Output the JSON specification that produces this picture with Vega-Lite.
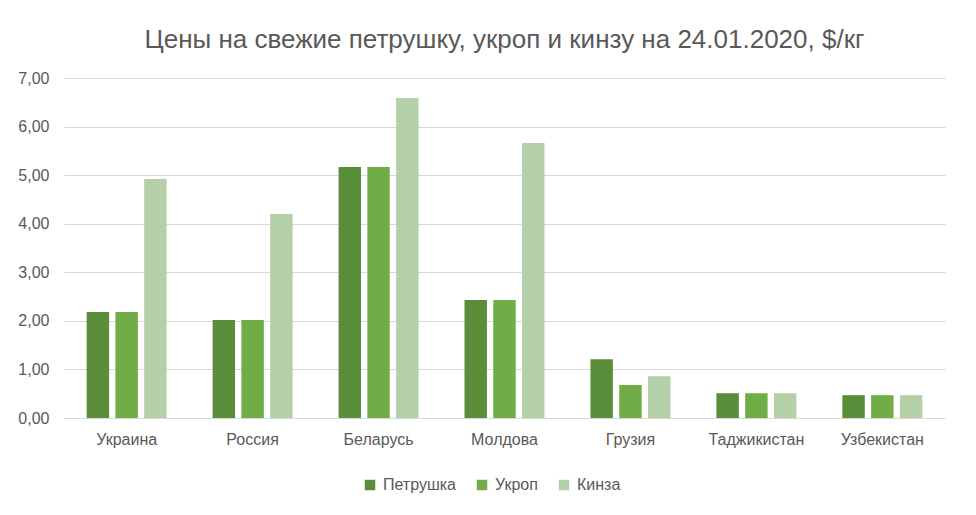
{
  "$schema": "https://vega.github.io/schema/vega-lite/v6.json",
  "autosize": {"type": "none"},
  "width": 881,
  "height": 340,
  "padding": {"left": 64, "top": 78, "right": 31, "bottom": 97},
  "background": "white",
  "title": {
    "text": "Цены на свежие петрушку, укроп и кинзу на 24.01.2020, $/кг",
    "font": "Liberation Sans",
    "fontSize": 26,
    "fontWeight": "normal",
    "color": "#595959",
    "anchor": "middle",
    "frame": "group",
    "offset": 17
  },
  "data": {
    "values": [
      {"country": "Украина", "herb": "Петрушка", "price": 2.18},
      {"country": "Украина", "herb": "Укроп", "price": 2.18},
      {"country": "Украина", "herb": "Кинза", "price": 4.92},
      {"country": "Россия", "herb": "Петрушка", "price": 2.02},
      {"country": "Россия", "herb": "Укроп", "price": 2.02},
      {"country": "Россия", "herb": "Кинза", "price": 4.2},
      {"country": "Беларусь", "herb": "Петрушка", "price": 5.17},
      {"country": "Беларусь", "herb": "Укроп", "price": 5.17},
      {"country": "Беларусь", "herb": "Кинза", "price": 6.59},
      {"country": "Молдова", "herb": "Петрушка", "price": 2.43},
      {"country": "Молдова", "herb": "Укроп", "price": 2.43},
      {"country": "Молдова", "herb": "Кинза", "price": 5.66},
      {"country": "Грузия", "herb": "Петрушка", "price": 1.21},
      {"country": "Грузия", "herb": "Укроп", "price": 0.68},
      {"country": "Грузия", "herb": "Кинза", "price": 0.86},
      {"country": "Таджикистан", "herb": "Петрушка", "price": 0.51},
      {"country": "Таджикистан", "herb": "Укроп", "price": 0.51},
      {"country": "Таджикистан", "herb": "Кинза", "price": 0.51},
      {"country": "Узбекистан", "herb": "Петрушка", "price": 0.47},
      {"country": "Узбекистан", "herb": "Укроп", "price": 0.47},
      {"country": "Узбекистан", "herb": "Кинза", "price": 0.47}
    ]
  },
  "mark": {"type": "bar"},
  "encoding": {
    "x": {
      "field": "country",
      "type": "nominal",
      "sort": null,
      "scale": {"paddingInner": 0.365, "paddingOuter": 0.18},
      "axis": {
        "title": null,
        "labelAngle": 0,
        "ticks": false,
        "domain": true,
        "domainColor": "#d9d9d9",
        "labelPadding": 13,
        "labelFontSize": 16,
        "labelColor": "#595959",
        "labelFont": "Liberation Sans",
        "grid": false
      }
    },
    "xOffset": {
      "field": "herb",
      "type": "nominal",
      "sort": ["Петрушка", "Укроп", "Кинза"],
      "scale": {"paddingInner": 0.22, "paddingOuter": 0}
    },
    "y": {
      "field": "price",
      "type": "quantitative",
      "scale": {"domain": [0, 7], "nice": false},
      "axis": {
        "title": null,
        "format": ".2f",
        "values": [0, 1, 2, 3, 4, 5, 6, 7],
        "labelOverlap": false,
        "ticks": false,
        "domain": false,
        "labelPadding": 15,
        "labelFontSize": 16,
        "labelColor": "#595959",
        "labelFont": "Liberation Sans",
        "gridColor": "#d9d9d9",
        "gridWidth": 1
      }
    },
    "color": {
      "field": "herb",
      "type": "nominal",
      "sort": ["Петрушка", "Укроп", "Кинза"],
      "scale": {
        "domain": ["Петрушка", "Укроп", "Кинза"],
        "range": ["#5b8e3a", "#70ad47", "#b5d0a8"]
      },
      "legend": {
        "title": null,
        "orient": "none",
        "legendX": 298,
        "legendY": 399,
        "direction": "horizontal",
        "symbolType": "square",
        "symbolSize": 110,
        "symbolStrokeWidth": 0,
        "labelFontSize": 16,
        "labelOffset": 5,
        "labelColor": "#595959",
        "labelFont": "Liberation Sans",
        "columnPadding": 18
      }
    }
  },
  "config": {
    "locale": {
      "number": {"decimal": ",", "thousands": " ", "grouping": [3], "currency": ["", "$"]}
    },
    "view": {"stroke": null}
  }
}
